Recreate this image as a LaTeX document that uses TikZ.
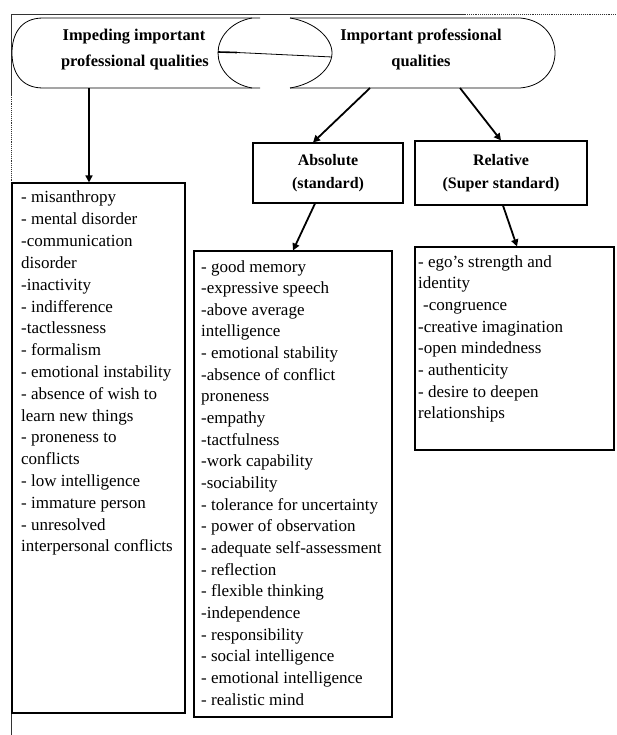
\documentclass[tikz,border=0pt]{standalone}
\usepackage{fontspec}
\setmainfont{Liberation Serif}
\usetikzlibrary{arrows.meta,calc}
\tikzset{
  frameline/.style={line width=0.9pt, black!80},
  pill/.style={line width=0.8pt, black},
  box/.style={draw, line width=1.1pt, rectangle, inner sep=0pt},
  titlebox/.style={box, align=center, font=\bfseries\fontsize{16}{23}\selectfont},
  pilltxt/.style={align=center, inner sep=0pt, anchor=base, font=\bfseries\fontsize{16.4}{26}\selectfont},
  listtxt/.style={anchor=base west, inner sep=0pt, font=\fontsize{17}{20}\selectfont},
  arr/.style={line width=1.8pt, -{Triangle[length=7pt,width=7pt]}},
  varr/.style={line width=1.5pt, -{Triangle[length=7pt,width=7pt]}}
}
\begin{document}
\begin{tikzpicture}[x=1pt,y=-1pt]
\useasboundingbox (0,0) rectangle (616,735);
% outer frame
\draw[frameline] (465,14) -- (11,14) -- (11,95);
\draw[frameline, densely dotted] (465,14) -- (616,14);
\draw[frameline, densely dotted] (11,95) -- (11,183);
\draw[frameline] (11,713) -- (11,735);
% left pill
\draw[pill] (260,18) -- (43,18) .. controls (20,18) and (12,35) .. (12,53)
  .. controls (12,71) and (20,88) .. (43,88) -- (260,88);
\draw[pill] (252,18) .. controls (230,22) and (218,38) .. (218,53)
  .. controls (218,68) and (230,84) .. (252,88);
% right pill
\draw[pill] (290,18) -- (520,18) .. controls (545,20) and (555,38) .. (555,53)
  .. controls (555,68) and (545,86) .. (520,88) -- (290,88);
\draw[pill] (290,18) .. controls (315,22) and (332,38) .. (332,53)
  .. controls (332,68) and (315,84) .. (290,88);
\draw[line width=1.6pt] (218,52) -- (237,52.5);
\draw[pill] (237,52.5) -- (332,57);
% pill texts
\node[pilltxt] (lp1) at (134,41) {Impeding important};
\node[pilltxt] (lp2) at (135,67) {professional qualities};
\node[pilltxt] (rp1) at (421,41) {Important professional};
\node[pilltxt] (rp2) at (421,67) {qualities};
\coordinate (lpout) at (89,88);
\coordinate (rpoutA) at (370,88);
\coordinate (rpoutB) at (460,88);
% boxes
\node[box, minimum width=173pt, minimum height=530pt] (leftbox) at (98.5,448) {};
\node[titlebox, minimum width=150pt, minimum height=60pt] (absbox) at (328,173) {Absolute\\(standard)};
\node[titlebox, minimum width=172pt, minimum height=64pt] (relbox) at (501,173) {Relative\\(Super standard)};
\node[box, minimum width=198pt, minimum height=466pt] (abslist) at (293,484) {};
\node[box, minimum width=199pt, minimum height=203pt] (rellist) at (514.5,348.5) {};
% connectors
\draw[varr] (lpout) -- (lpout |- leftbox.north);
\draw[arr] (rpoutA) -- ($(absbox.north)+(-15,0)$);
\draw[arr] (rpoutB) -- (relbox.north);
\draw[arr] ($(absbox.south)+(-13,0)$) -- (abslist.north);
\draw[arr] ($(relbox.south)+(2,0)$) -- ($(rellist.north)+(2.5,0)$);
% list texts
\foreach [count=\i] \t in {- misanthropy, - mental disorder, -communication, disorder,
  -inactivity, - indifference, -tactlessness, - formalism, - emotional instability,
  - absence of wish to, learn new things, - proneness to, conflicts, - low intelligence,
  - immature person, - unresolved, interpersonal conflicts}
  \node[listtxt] (L\i) at (21,{203+21.8*(\i-1)}) {\t};
\foreach [count=\i] \t in {- good memory, -expressive speech, -above average, intelligence,
  - emotional stability, -absence of conflict, proneness, -empathy, -tactfulness,
  -work capability, -sociability, - tolerance for uncertainty, - power of observation,
  - adequate self-assessment, - reflection, - flexible thinking, -independence,
  - responsibility, - social intelligence, - emotional intelligence, - realistic mind}
  \node[listtxt] (A\i) at (201,{272+21.65*(\i-1)}) {\t};
\foreach [count=\i] \t in {- ego’s strength and, identity, \hspace*{5pt}-congruence,
  -creative imagination, -open mindedness, - authenticity, - desire to deepen, relationships}
  \node[listtxt] (R\i) at (418,{267+21.7*(\i-1)}) {\t};
\end{tikzpicture}
\end{document}
